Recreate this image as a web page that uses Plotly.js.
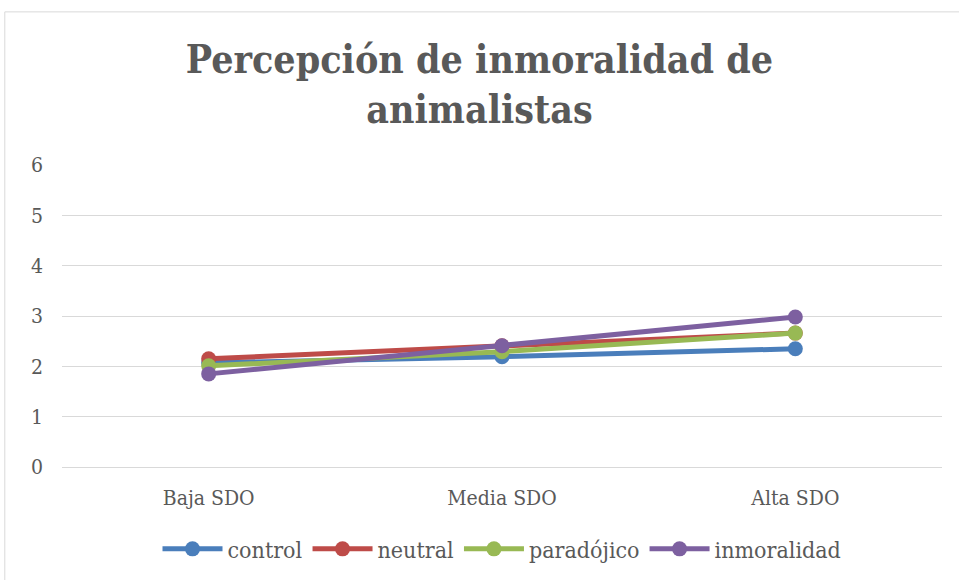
<!DOCTYPE html>
<html>
<head>
<meta charset="utf-8">
<script src="https://cdn.plot.ly/plotly-3.0.1.min.js"></script>
<style>
html,body{margin:0;padding:0;background:#fff;}
#chart{width:959px;height:580px;}
</style>
</head>
<body>
<div id="chart"></div>
<script>
const categories = ["Baja SDO", "Media SDO", "Alta SDO"];
const seriesNames = ["control", "neutral", "paradójico", "inmoralidad"];
const control = [2.07, 2.19, 2.35];
const neutral = [2.15, 2.41, 2.66];
const paradojico = [2.01, 2.29, 2.66];
const inmoralidad = [1.85, 2.41, 2.98];
const colors = ["#4a7ebb", "#be4b48", "#98b954", "#7d60a0"];
const seriesValues = [control, neutral, paradojico, inmoralidad];

const traces = seriesValues.map((vals, i) => ({
  x: categories,
  y: vals,
  name: seriesNames[i],
  type: "scatter",
  mode: "lines+markers",
  line: {color: colors[i], width: 5},
  marker: {color: colors[i], size: 15}
}));

const font = "'DejaVu Serif Condensed', 'Liberation Serif', serif";
const layout = {
  width: 959, height: 580,
  paper_bgcolor: "#fff", plot_bgcolor: "#fff",
  margin: {l: 62, r: 17, t: 165, b: 113, autoexpand: false},
  title: {
    text: "Percepción de inmoralidad de<br>animalistas",
    font: {family: font, size: 39, color: "#595959", weight: "bold"},
    x: 0.5, xanchor: "center", y: 0.875, yanchor: "top"
  },
  font: {family: font, size: 21, color: "#595959"},
  xaxis: {
    type: "category",
    showgrid: false, zeroline: false,
    showline: true, linecolor: "#d9d9d9", linewidth: 1,
    ticks: "", tickfont: {size: 21, color: "#595959"},
    ticklabelstandoff: 12,
    range: [-0.5, 2.5]
  },
  yaxis: {
    range: [0, 6], dtick: 1,
    showgrid: true, gridcolor: "#d9d9d9", gridwidth: 1,
    zeroline: false, showline: false, ticks: "",
    tickfont: {size: 21, color: "#595959"},
    ticklabelstandoff: 18
  },
  legend: {
    orientation: "h", x: 0.5, xanchor: "center", y: -0.2, yanchor: "top",
    font: {size: 23, color: "#595959"},
    itemwidth: 60
  },
  shapes: [{
    type: "rect", xref: "paper", yref: "paper",
    x0: -0.065, x1: 1.05, y0: -0.5, y1: 1.507,
    line: {color: "#d9d9d9", width: 1}
  }]
};
Plotly.newPlot("chart", traces, layout, {displayModeBar: false});
</script>
</body>
</html>
